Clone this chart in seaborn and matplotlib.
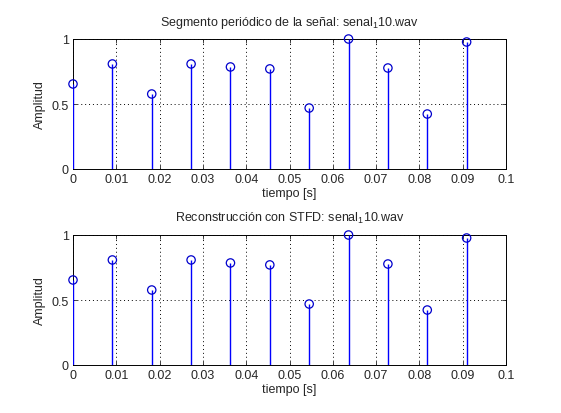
import numpy as np
import pandas as pd
import matplotlib
matplotlib.use("Agg")
import matplotlib.pyplot as plt
import seaborn as sns

# Data
n_samples = list(range(11))
period_s = 0.1
time_s = [n * period_s / 11 for n in n_samples]
amp_original = [0.654, 0.808, 0.577, 0.808, 0.785, 0.770, 0.469, 1.0, 0.777, 0.423, 0.977]
amp_recon = [0.654, 0.808, 0.577, 0.808, 0.785, 0.770, 0.469, 1.0, 0.777, 0.423, 0.977]
titles = [r"Segmento periódico de la señal: senal$_{1}$10.wav",
          r"Reconstrucción con STFD: senal$_{1}$10.wav"]
xticks = [0, 0.01, 0.02, 0.03, 0.04, 0.05, 0.06, 0.07, 0.08, 0.09, 0.1]
xticklabels = ["0", "0.01", "0.02", "0.03", "0.04", "0.05", "0.06", "0.07", "0.08", "0.09", "0.1"]
yticks = [0, 0.5, 1]
yticklabels = ["0", "0.5", "1"]

sns.set_style("white")
plt.rcParams["font.family"] = ["Liberation Sans", "DejaVu Sans"]
plt.rcParams["mathtext.fontset"] = "custom"
plt.rcParams["mathtext.rm"] = "Liberation Sans"
plt.rcParams["mathtext.it"] = "Liberation Sans"

fig = plt.figure(figsize=(5.61, 4.14), dpi=100)
fig.patch.set_facecolor("white")
positions = [[73/561, 1 - 170/414, 433/561, 130/414],
             [73/561, 1 - 366/414, 433/561, 130/414]]

for pos, amps, title in zip(positions, [amp_original, amp_recon], titles):
    ax = fig.add_axes(pos)
    df = pd.DataFrame({"t": time_s, "a": amps})
    ax.vlines(df["t"], 0, df["a"], color="#0000ff", linewidth=1.0, zorder=3)
    sns.scatterplot(data=df, x="t", y="a", ax=ax, marker="o", s=36,
                    facecolor="none", edgecolor="#0000cc", linewidth=0.9,
                    zorder=4, clip_on=False, legend=False)
    ax.set_xlim(0, 0.1)
    ax.set_ylim(0, 1)
    ax.set_xticks(xticks)
    ax.set_xticklabels(xticklabels)
    ax.set_yticks(yticks)
    ax.set_yticklabels(yticklabels)
    ax.grid(True, linestyle=(0, (1, 3)), color="black", linewidth=0.7)
    ax.set_axisbelow(True)
    ax.tick_params(direction="in", length=3, labelsize=9, width=0.6,
                   top=True, right=True, bottom=True, left=True, pad=3)
    for s in ax.spines.values():
        s.set_color("black")
        s.set_linewidth(0.7)
    ax.set_xlabel("tiempo [s]", fontsize=9, labelpad=1)
    ax.set_ylabel("Amplitud", fontsize=9, labelpad=4)
    ax.set_title(title, fontsize=9, pad=10)

fig.savefig("out.png", dpi=100, facecolor="white")
